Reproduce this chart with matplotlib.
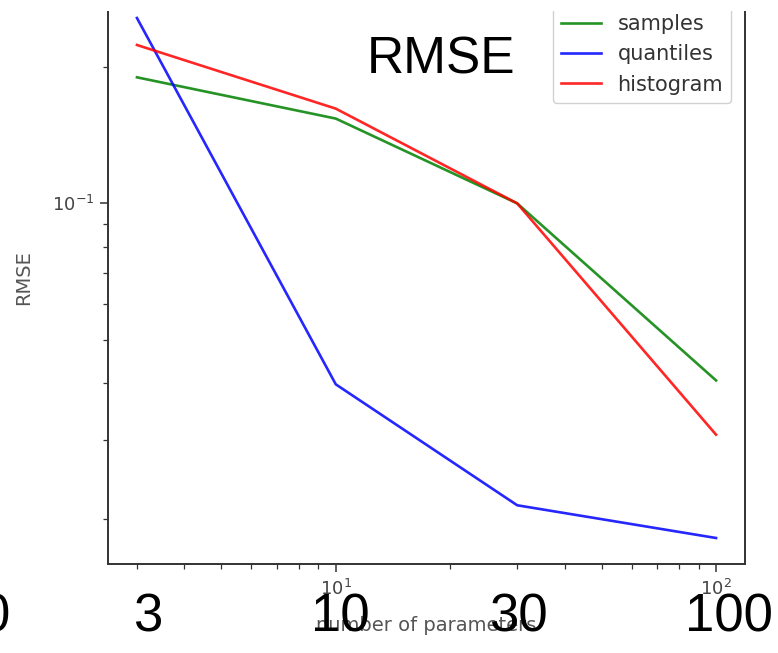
import matplotlib
matplotlib.use("Agg")
import matplotlib.pyplot as plt
from matplotlib.patches import Rectangle

# RMSE against number of parameters, per representation
n_params = [3, 10, 30, 100]
rmse_samples = [0.190, 0.154, 0.100, 0.0406]
rmse_quantiles = [0.257, 0.0398, 0.0215, 0.0182]
rmse_histogram = [0.224, 0.162, 0.100, 0.0308]

series = [("samples", rmse_samples, "g"),
          ("quantiles", rmse_quantiles, "b"),
          ("histogram", rmse_histogram, "r")]

# big callouts along the bottom: "0" is mostly off the left edge
callout_labels = ["0", "3", "10", "30", "100"]
callout_x_px = [-4, 148, 340, 518, 729]

W, H = 778, 653
plt.rcParams["font.size"] = 14
plt.rcParams["xtick.color"] = "#333333"
plt.rcParams["ytick.color"] = "#333333"
plt.rcParams["xtick.labelcolor"] = "#444444"
plt.rcParams["ytick.labelcolor"] = "#444444"

fig = plt.figure(figsize=(W / 100, H / 100), dpi=100)
ax = fig.add_axes([108 / W, 1 - 564 / H, (745 - 108) / W, (564 + 8) / H])

for name, vals, col in series:
    ax.plot(n_params, vals, color=col, lw=1.9, label=name, alpha=0.85)

ax.set_xscale("log")
ax.set_yscale("log")
ax.set_xlabel("number of parameters", labelpad=12, color="#555555", fontsize=14)
ax.set_ylabel("RMSE", labelpad=14, color="#555555", fontsize=14)
ax.tick_params(which="major", length=6, width=1.1, labelsize=13)
ax.tick_params(axis="x", which="major", pad=5)
ax.tick_params(which="minor", length=3.5, width=0.9)
for s in ax.spines.values():
    s.set_linewidth(1.4)
    s.set_color("#333333")
leg = ax.legend(loc="upper right", fontsize=15, handlelength=1.9, labelspacing=0.5,
                borderaxespad=0.65, edgecolor="#cccccc", framealpha=0.9)
for t in leg.get_texts():
    t.set_color("#333333")

# blank strip across the top edge
fig.patches.append(Rectangle((0, 1 - 11 / H), 1, 11 / H, transform=fig.transFigure,
                             facecolor="white", edgecolor="none", zorder=5))

big_font = ["Liberation Sans Narrow", "Liberation Sans", "DejaVu Sans"]
fig.text(441 / W, 1 - 60 / H, "RMSE", fontsize=37, family=big_font, color="black",
         ha="center", va="center", zorder=10)
for lab, xp in zip(callout_labels, callout_x_px):
    fig.text(xp / W, 1 - 618 / H, lab, fontsize=38, family=big_font, color="black",
             ha="center", va="center", zorder=10)

fig.savefig("out.png", dpi=100)
